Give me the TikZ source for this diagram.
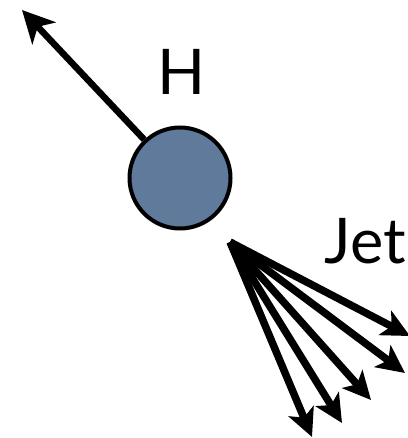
\documentclass[tikz,border=0pt]{standalone}
\usepackage{fontspec}
\setmainfont{Lato}
\usetikzlibrary{arrows.meta}
\definecolor{ballblue}{RGB}{95,122,154}
\begin{document}
\begin{tikzpicture}[x=1pt,y=-1pt,
  ball/.style={circle,draw=black,line width=4pt,fill=ballblue,minimum size=101pt,inner sep=0pt},
  harrow/.style={line width=6.5pt,-{Stealth[length=32pt,width=32pt,inset=9pt]}},
  jetarrow/.style={line width=7.5pt,-{Stealth[length=28pt,width=27pt,inset=7pt]}},
  lbl/.style={inner sep=0pt,font=\fontsize{63}{63}\selectfont}]
\useasboundingbox (0,0) rectangle (407,438);
\node[ball] (h) at (180,178) {};
\coordinate (htip) at (22,10);
\draw[harrow] (h.133) -- (htip);
\node[lbl,anchor=base] (hl) at (182,95) {H};
\node[lbl,anchor=base east] (jl) at (406,263) {Jet};
\coordinate (jo) at (230,242);
\coordinate (t1) at (410,336);
\coordinate (t2) at (405,373);
\coordinate (t3) at (371,400);
\coordinate (t4) at (342,423);
\coordinate (t5) at (312,437);
\foreach \t in {t1,t2,t3,t4,t5} \draw[jetarrow] (jo) -- (\t);
\end{tikzpicture}
\end{document}
